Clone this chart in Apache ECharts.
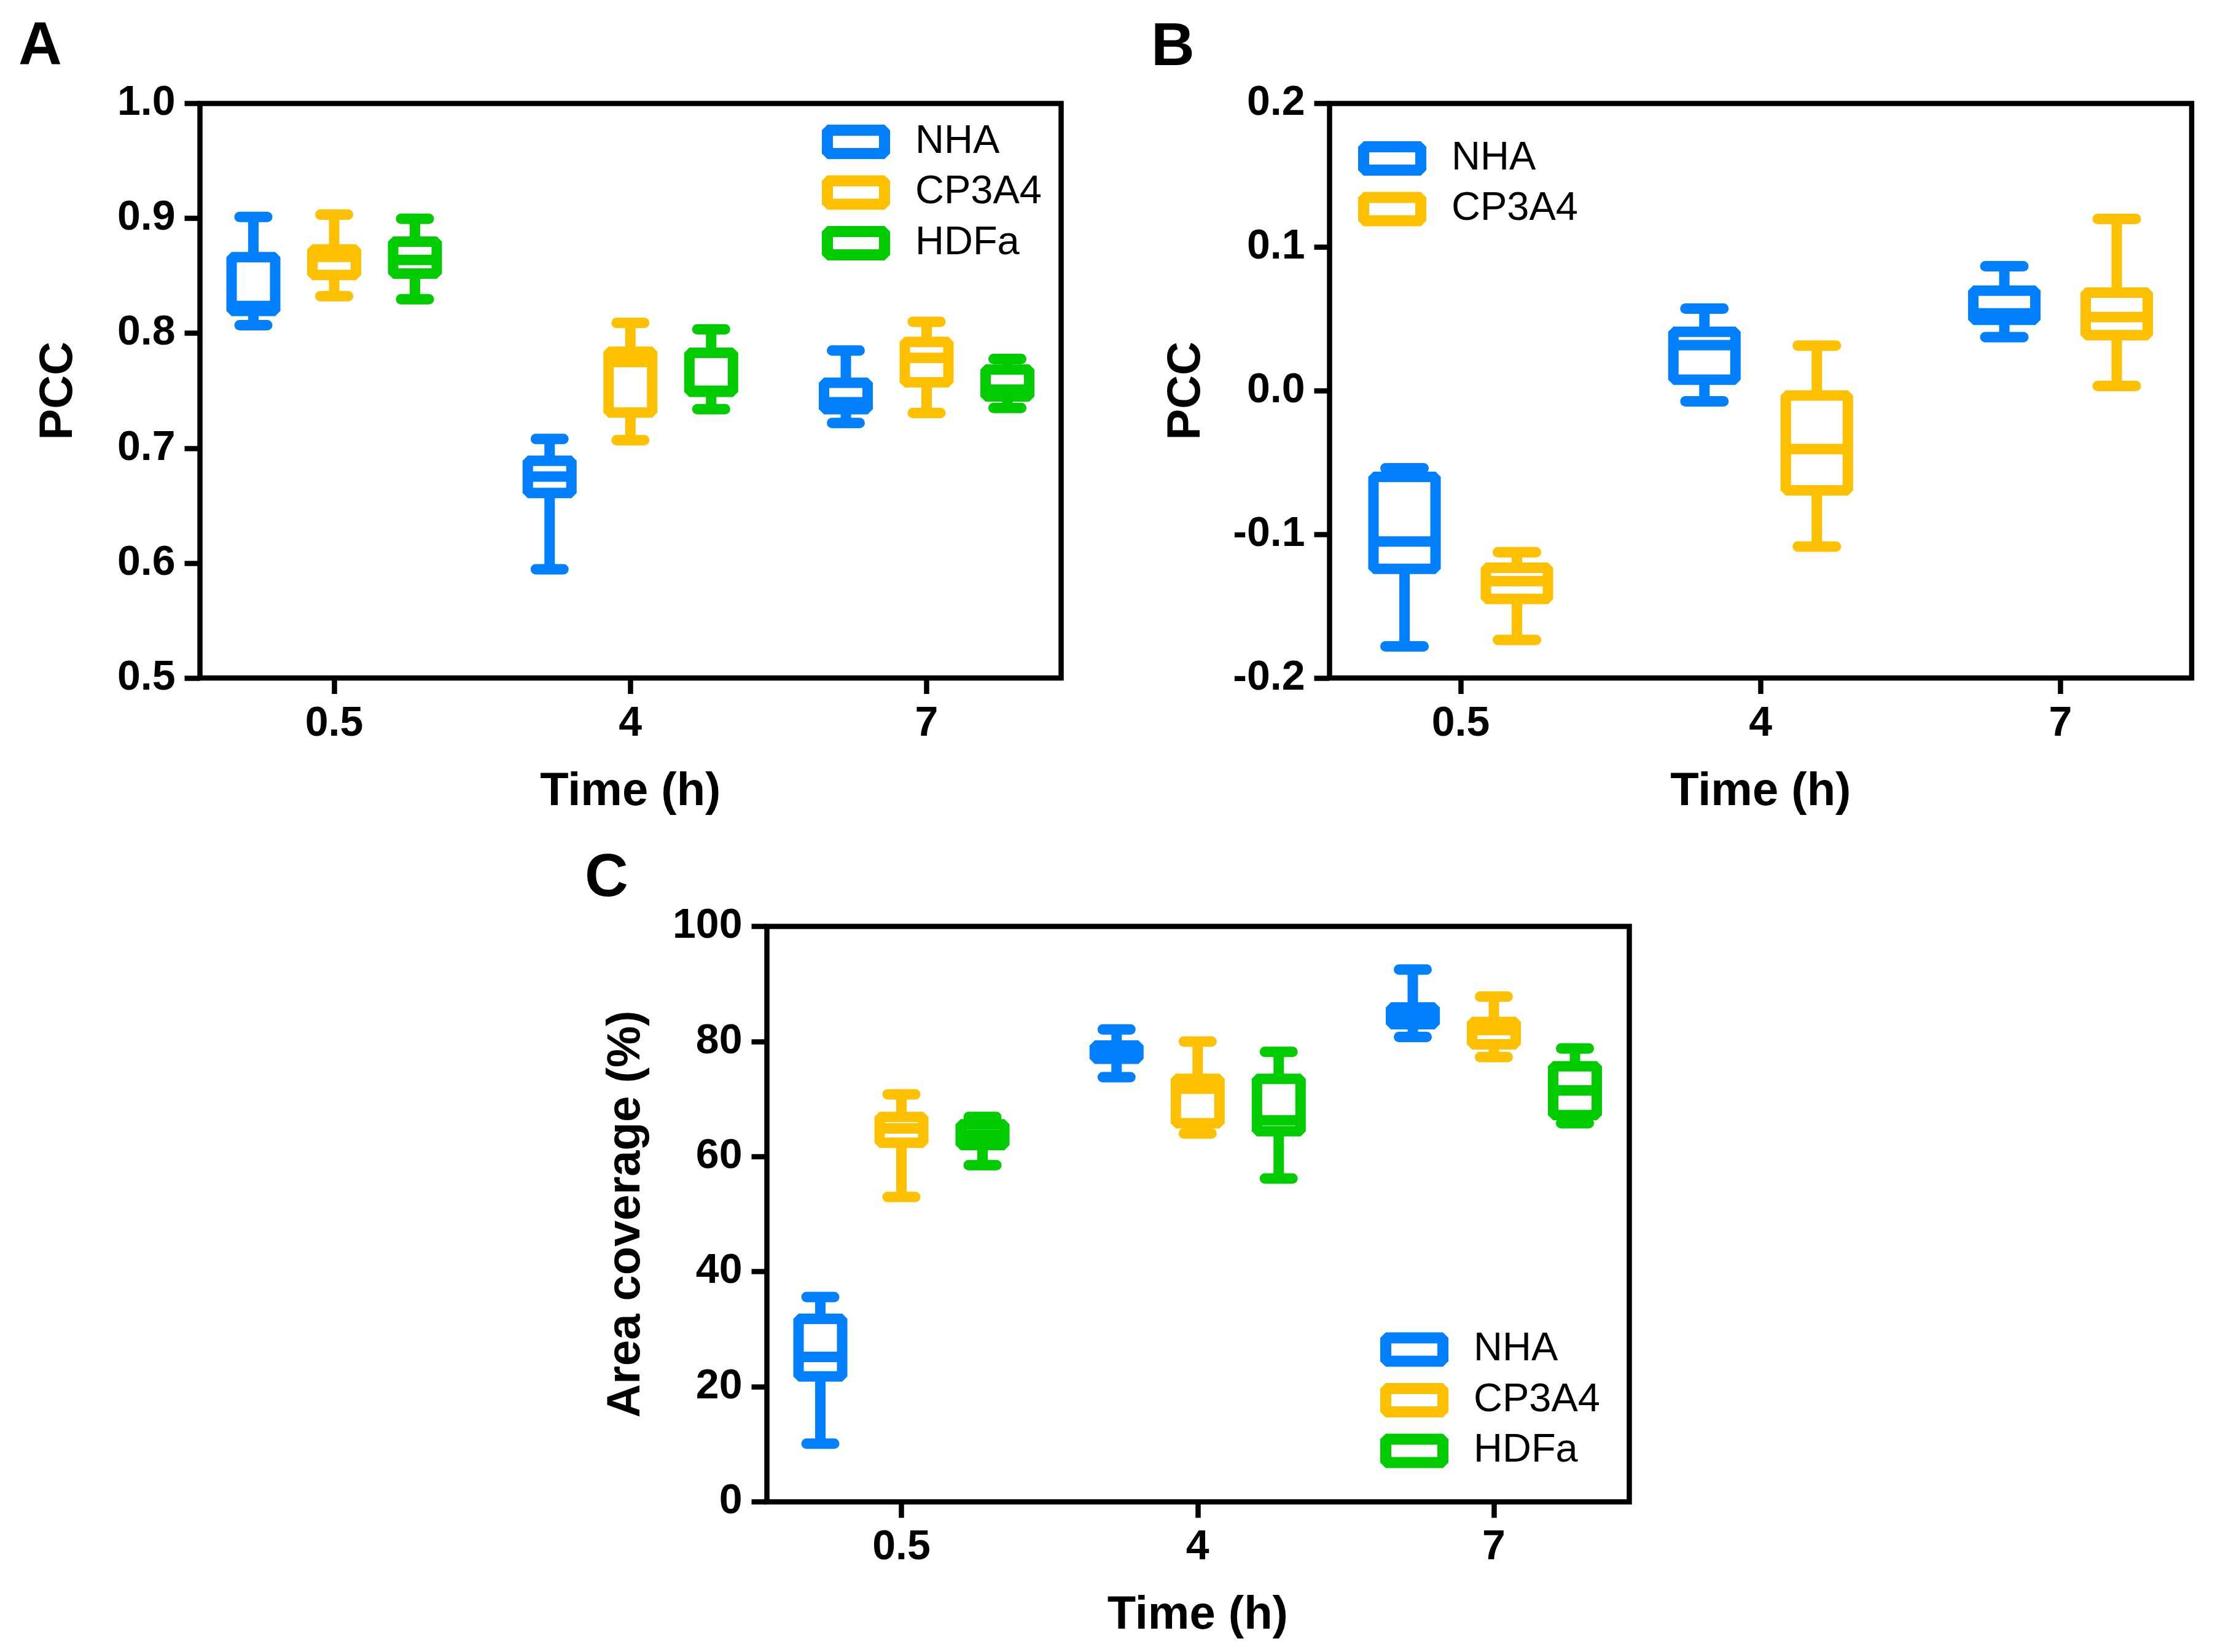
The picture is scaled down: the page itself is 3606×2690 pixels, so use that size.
<!DOCTYPE html>
<html>
<head>
<meta charset="utf-8">
<script src="https://cdn.jsdelivr.net/npm/echarts@6/dist/echarts.min.js"></script>
<style>
html,body{margin:0;padding:0;background:#fff;}
#chart{width:3606px;height:2690px;}
</style>
</head>
<body>
<div id="chart"></div>
<script>
// ---------------- DATA ----------------
const timeCategories = ['0.5', '4', '7'];
const groupsAC = ['NHA', 'CP3A4', 'HDFa'];
const groupsB = ['NHA', 'CP3A4'];

// each entry: [min, Q1, median, Q3, max] for time 0.5, 4, 7
// Panel A : PCC
const pccA_NHA   = [[0.807, 0.8195, 0.8237, 0.8662, 0.9012], [0.5946, 0.661, 0.6753, 0.6891, 0.708], [0.722, 0.734, 0.740, 0.757, 0.785]];
const pccA_CP3A4 = [[0.8323, 0.8507, 0.8665, 0.8729, 0.9033], [0.707, 0.731, 0.775, 0.784, 0.809], [0.7306, 0.7574, 0.7786, 0.7925, 0.810]];
const pccA_HDFa  = [[0.8296, 0.8519, 0.8638, 0.8798, 0.8996], [0.734, 0.749, 0.750, 0.783, 0.8035], [0.735, 0.745, 0.751, 0.7685, 0.7777]];
// Panel B : PCC
const pccB_NHA   = [[-0.178, -0.124, -0.105, -0.060, -0.054], [-0.0074, 0.0077, 0.0317, 0.041, 0.0572], [0.0373, 0.0494, 0.0539, 0.0697, 0.0867]];
const pccB_CP3A4 = [[-0.1735, -0.145, -0.1325, -0.1232, -0.1125], [-0.1085, -0.0694, -0.0406, -0.0033, 0.0314], [0.0033, 0.0387, 0.0513, 0.0683, 0.1196]];
// Panel C : Area coverage (%)
const areaC_NHA   = [[10.1, 21.8, 25.2, 31.8, 35.6], [73.8, 77.0, 78.1, 79.3, 82.1], [80.8, 83.0, 84.7, 85.9, 92.5]];
const areaC_CP3A4 = [[53.0, 62.4, 64.9, 66.9, 70.8], [64.0, 65.8, 71.8, 73.5, 80.0], [77.3, 79.5, 82.0, 83.4, 87.8]];
const areaC_HDFa  = [[58.5, 62.0, 63.8, 65.6, 66.9], [56.2, 64.4, 66.3, 73.5, 78.2], [65.8, 67.2, 71.5, 75.7, 78.8]];

// y-axis tick labels
const yTicksA = ['0.5', '0.6', '0.7', '0.8', '0.9', '1.0'];
const yTicksB = ['-0.2', '-0.1', '0.0', '0.1', '0.2'];
const yTicksC = ['0', '20', '40', '60', '80', '100'];

// ---------------- STYLE ----------------
const FONT = '"Liberation Sans", Arial, Helvetica, sans-serif';
const COLORS = { NHA: '#0080FF', CP3A4: '#FFC000', HDFa: '#00CC00' };
const LW = 17;
const AXW = 8.5;

function makeRenderItem(offsetFrac, boxFrac, capFrac, color) {
  return function (params, api) {
    const cat = api.value(0);
    const band = api.size([1, 0])[0];
    const base = api.coord([cat, api.value(3)]);
    const cx = base[0] + offsetFrac * band;
    const yMin = api.coord([cat, api.value(1)])[1];
    const yQ1 = api.coord([cat, api.value(2)])[1];
    const yMed = base[1];
    const yQ3 = api.coord([cat, api.value(4)])[1];
    const yMax = api.coord([cat, api.value(5)])[1];
    const hb = boxFrac * band / 2, hc = capFrac * band / 2;
    const ls = { stroke: color, lineWidth: LW, lineCap: 'butt' };
    const cs = { stroke: color, lineWidth: LW, lineCap: 'round' };
    return {
      type: 'group',
      children: [
        { type: 'line', shape: { x1: cx, y1: yQ3, x2: cx, y2: yMax }, style: ls },
        { type: 'line', shape: { x1: cx, y1: yQ1, x2: cx, y2: yMin }, style: ls },
        { type: 'line', shape: { x1: cx - hc, y1: yMax, x2: cx + hc, y2: yMax }, style: cs },
        { type: 'line', shape: { x1: cx - hc, y1: yMin, x2: cx + hc, y2: yMin }, style: cs },
        { type: 'polygon', shape: { points: [[cx - hb, yQ3], [cx + hb, yQ3], [cx + hb, yQ1], [cx - hb, yQ1]] },
          style: { fill: '#fff', stroke: color, lineWidth: LW, lineJoin: 'bevel' } },
        { type: 'line', shape: { x1: cx - hb, y1: yMed, x2: cx + hb, y2: yMed }, style: ls }
      ]
    };
  };
}

function boxSeries(name, values, axisIdx, offsetFrac, boxFrac, capFrac) {
  return {
    type: 'custom',
    name: name,
    xAxisIndex: axisIdx,
    yAxisIndex: axisIdx,
    itemStyle: { color: COLORS[name] },
    encode: { x: 0, y: [1, 2, 3, 4, 5] },
    data: values.map((v, i) => [timeCategories[i]].concat(v)),
    renderItem: makeRenderItem(offsetFrac, boxFrac, capFrac, COLORS[name]),
    silent: true
  };
}

const labelStyle = { fontSize: 68, fontWeight: 'bold', color: '#000', fontFamily: FONT };
const nameStyle = { fontSize: 76, fontWeight: 'bold', color: '#000', fontFamily: FONT };

function catAxis(gi) {
  return {
    type: 'category', gridIndex: gi, data: timeCategories,
    axisLine: { show: false, onZero: false },
    axisTick: { show: true, alignWithLabel: true, length: 26, lineStyle: { color: '#000', width: AXW } },
    axisLabel: Object.assign({ margin: 41, interval: 0 }, labelStyle),
    splitLine: { show: false },
    name: 'Time (h)', nameLocation: 'middle', nameGap: 148, nameTextStyle: nameStyle
  };
}
function valAxis(gi, ticks, offset, name, nameGap, decimals) {
  const min = parseFloat(ticks[0]);
  const max = parseFloat(ticks[ticks.length - 1]);
  const interval = parseFloat(ticks[1]) - parseFloat(ticks[0]);
  return {
    type: 'value', gridIndex: gi, min: min, max: max, interval: +interval.toFixed(6), offset: offset,
    axisLine: { show: false, onZero: false },
    axisTick: { show: true, length: 25, lineStyle: { color: '#000', width: AXW } },
    axisLabel: Object.assign({ margin: 40, formatter: function (v) {
      if (Math.abs(v) < 1e-9) v = 0;
      return v.toFixed(decimals);
    } }, labelStyle),
    splitLine: { show: false },
    name: name, nameLocation: 'middle', nameRotate: 90, nameGap: nameGap, nameTextStyle: nameStyle
  };
}
function frameGrid(left, top, width, height) {
  return { left: left, top: top, width: width, height: height, show: true, borderColor: '#000', borderWidth: AXW, backgroundColor: 'transparent' };
}
function legendFor(names, left, top) {
  return {
    orient: 'vertical', left: left, top: top, padding: 0,
    itemWidth: 93, itemHeight: 38, itemGap: 17.5, selectedMode: false,
    textStyle: { fontSize: 65, lineHeight: 65, color: '#000', fontFamily: FONT, padding: [0, 0, 0, 45] },
    data: names.map(n => ({ name: n, icon: 'rect',
      itemStyle: { color: '#fff', borderColor: COLORS[n], borderWidth: 18, borderJoin: 'bevel' } }))
  };
}

const option = {
  animation: false,
  backgroundColor: '#fff',
  grid: [
    { left: 302.9, top: 168.5, width: 1446.75, height: 935.5 },   // A data
    { left: 2133.9, top: 168.5, width: 1464.75, height: 935.5 },  // B data
    { left: 1226.4, top: 1508.5, width: 1446.75, height: 937 },   // C data
    frameGrid(325.5, 168.5, 1402, 935.5),
    frameGrid(2164.5, 168.5, 1403.5, 935.5),
    frameGrid(1248.5, 1508.5, 1404, 937)
  ],
  xAxis: [
    catAxis(0), catAxis(1), catAxis(2),
    { type: 'value', gridIndex: 3, show: false },
    { type: 'value', gridIndex: 4, show: false },
    { type: 'value', gridIndex: 5, show: false }
  ],
  yAxis: [
    valAxis(0, yTicksA, -22.6, 'PCC', 191, 1),
    valAxis(1, yTicksB, -30.6, 'PCC', 194, 1),
    valAxis(2, yTicksC, -22.1, 'Area coverage (%)', 190, 0),
    { type: 'value', gridIndex: 3, show: false },
    { type: 'value', gridIndex: 4, show: false },
    { type: 'value', gridIndex: 5, show: false }
  ],
  legend: [
    legendFor(groupsAC, 1338, 198.5),
    legendFor(groupsB, 2211, 225.5),
    legendFor(groupsAC, 2247, 2165)
  ],
  graphic: [
    { type: 'text', x: 30, y: 77, style: { text: 'A', fontSize: 98, fontWeight: 'bold', fontFamily: FONT, fill: '#000', align: 'left', verticalAlign: 'middle' } },
    { type: 'text', x: 1874, y: 79, style: { text: 'B', fontSize: 98, fontWeight: 'bold', fontFamily: FONT, fill: '#000', align: 'left', verticalAlign: 'middle' } },
    { type: 'text', x: 952, y: 1432, style: { text: 'C', fontSize: 98, fontWeight: 'bold', fontFamily: FONT, fill: '#000', align: 'left', verticalAlign: 'middle' } }
  ],
  series: [
    boxSeries('NHA', pccA_NHA, 0, -0.2727, 0.1472, 0.0933),
    boxSeries('CP3A4', pccA_CP3A4, 0, 0, 0.1472, 0.0933),
    boxSeries('HDFa', pccA_HDFa, 0, 0.2727, 0.1472, 0.0933),
    boxSeries('NHA', pccB_NHA, 1, -0.1874, 0.2069, 0.127),
    boxSeries('CP3A4', pccB_CP3A4, 1, 0.1874, 0.2069, 0.127),
    boxSeries('NHA', areaC_NHA, 2, -0.2737, 0.1472, 0.0933),
    boxSeries('CP3A4', areaC_CP3A4, 2, 0, 0.1472, 0.0933),
    boxSeries('HDFa', areaC_HDFa, 2, 0.2737, 0.1472, 0.0933)
  ]
};

const chart = echarts.init(document.getElementById('chart'), null, { renderer: 'canvas' });
chart.setOption(option);
</script>
</body>
</html>
